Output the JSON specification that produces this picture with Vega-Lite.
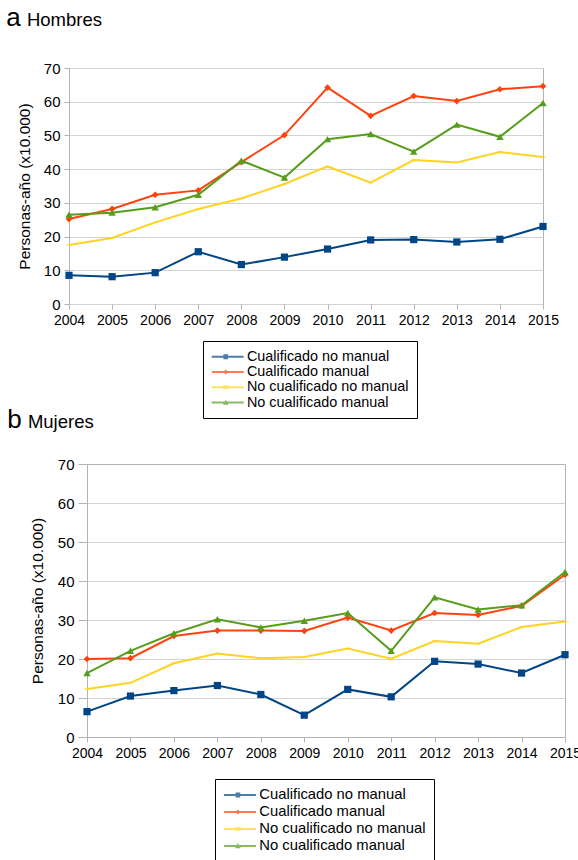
{
  "$schema": "https://vega.github.io/schema/vega-lite/v6.json",
  "background": "white",
  "padding": {"left": 5, "top": 4, "right": 5, "bottom": 0},
  "spacing": -12,
  "config": {
    "font": "Liberation Sans",
    "view": {"stroke": "#b3b3b3", "strokeWidth": 1},
    "axis": {"domain": false, "gridColor": "#d3d3d3", "gridWidth": 1, "tickColor": "#b3b3b3", "tickSize": 5, "labelColor": "black", "labelFont": "Liberation Sans", "titleFont": "Liberation Sans", "titleFontWeight": "normal", "titleColor": "black"},
    "legend": {"orient": "none", "direction": "vertical", "title": null, "padding": 7.5, "strokeColor": "black", "strokeWidth": 1, "fillColor": "white", "labelFont": "Liberation Sans", "labelColor": "black", "labelLimit": 0, "symbolSize": 196, "labelOffset": 21, "symbolStrokeWidth": 0},
    "title": {"anchor": "start", "frame": "bounds", "font": "Liberation Sans", "fontSize": 26, "fontWeight": "normal", "color": "black", "subtitleFont": "Liberation Sans", "subtitleFontSize": 18.5, "subtitleColor": "black", "subtitlePadding": -20}
  },
  "resolve": {"scale": {"color": "independent", "shape": "independent"}, "legend": {"color": "independent", "shape": "independent"}},
  "datasets": {
    "hombres": [
      {"anio": 2004, "grupo": "Cualificado no manual", "valor": 8.5},
      {"anio": 2005, "grupo": "Cualificado no manual", "valor": 8.1},
      {"anio": 2006, "grupo": "Cualificado no manual", "valor": 9.3},
      {"anio": 2007, "grupo": "Cualificado no manual", "valor": 15.5},
      {"anio": 2008, "grupo": "Cualificado no manual", "valor": 11.7},
      {"anio": 2009, "grupo": "Cualificado no manual", "valor": 13.9},
      {"anio": 2010, "grupo": "Cualificado no manual", "valor": 16.3},
      {"anio": 2011, "grupo": "Cualificado no manual", "valor": 19.0},
      {"anio": 2012, "grupo": "Cualificado no manual", "valor": 19.1},
      {"anio": 2013, "grupo": "Cualificado no manual", "valor": 18.4},
      {"anio": 2014, "grupo": "Cualificado no manual", "valor": 19.2},
      {"anio": 2015, "grupo": "Cualificado no manual", "valor": 23.0},
      {"anio": 2004, "grupo": "Cualificado manual", "valor": 25.2},
      {"anio": 2005, "grupo": "Cualificado manual", "valor": 28.2},
      {"anio": 2006, "grupo": "Cualificado manual", "valor": 32.4},
      {"anio": 2007, "grupo": "Cualificado manual", "valor": 33.7},
      {"anio": 2008, "grupo": "Cualificado manual", "valor": 42.1},
      {"anio": 2009, "grupo": "Cualificado manual", "valor": 50.1},
      {"anio": 2010, "grupo": "Cualificado manual", "valor": 64.2},
      {"anio": 2011, "grupo": "Cualificado manual", "valor": 55.8},
      {"anio": 2012, "grupo": "Cualificado manual", "valor": 61.7},
      {"anio": 2013, "grupo": "Cualificado manual", "valor": 60.2},
      {"anio": 2014, "grupo": "Cualificado manual", "valor": 63.7},
      {"anio": 2015, "grupo": "Cualificado manual", "valor": 64.6},
      {"anio": 2004, "grupo": "No cualificado no manual", "valor": 17.5},
      {"anio": 2005, "grupo": "No cualificado no manual", "valor": 19.6},
      {"anio": 2006, "grupo": "No cualificado no manual", "valor": 24.2},
      {"anio": 2007, "grupo": "No cualificado no manual", "valor": 28.2},
      {"anio": 2008, "grupo": "No cualificado no manual", "valor": 31.3},
      {"anio": 2009, "grupo": "No cualificado no manual", "valor": 35.6},
      {"anio": 2010, "grupo": "No cualificado no manual", "valor": 40.8},
      {"anio": 2011, "grupo": "No cualificado no manual", "valor": 36.0},
      {"anio": 2012, "grupo": "No cualificado no manual", "valor": 42.7},
      {"anio": 2013, "grupo": "No cualificado no manual", "valor": 42.0},
      {"anio": 2014, "grupo": "No cualificado no manual", "valor": 45.1},
      {"anio": 2015, "grupo": "No cualificado no manual", "valor": 43.6},
      {"anio": 2004, "grupo": "No cualificado manual", "valor": 26.5},
      {"anio": 2005, "grupo": "No cualificado manual", "valor": 27.1},
      {"anio": 2006, "grupo": "No cualificado manual", "valor": 28.7},
      {"anio": 2007, "grupo": "No cualificado manual", "valor": 32.4},
      {"anio": 2008, "grupo": "No cualificado manual", "valor": 42.5},
      {"anio": 2009, "grupo": "No cualificado manual", "valor": 37.5},
      {"anio": 2010, "grupo": "No cualificado manual", "valor": 48.9},
      {"anio": 2011, "grupo": "No cualificado manual", "valor": 50.4},
      {"anio": 2012, "grupo": "No cualificado manual", "valor": 45.2},
      {"anio": 2013, "grupo": "No cualificado manual", "valor": 53.2},
      {"anio": 2014, "grupo": "No cualificado manual", "valor": 49.6},
      {"anio": 2015, "grupo": "No cualificado manual", "valor": 59.6}
    ],
    "mujeres": [
      {"anio": 2004, "grupo": "Cualificado no manual", "valor": 6.5},
      {"anio": 2005, "grupo": "Cualificado no manual", "valor": 10.5},
      {"anio": 2006, "grupo": "Cualificado no manual", "valor": 11.9},
      {"anio": 2007, "grupo": "Cualificado no manual", "valor": 13.2},
      {"anio": 2008, "grupo": "Cualificado no manual", "valor": 10.9},
      {"anio": 2009, "grupo": "Cualificado no manual", "valor": 5.6},
      {"anio": 2010, "grupo": "Cualificado no manual", "valor": 12.2},
      {"anio": 2011, "grupo": "Cualificado no manual", "valor": 10.3},
      {"anio": 2012, "grupo": "Cualificado no manual", "valor": 19.4},
      {"anio": 2013, "grupo": "Cualificado no manual", "valor": 18.7},
      {"anio": 2014, "grupo": "Cualificado no manual", "valor": 16.4},
      {"anio": 2015, "grupo": "Cualificado no manual", "valor": 21.1},
      {"anio": 2004, "grupo": "Cualificado manual", "valor": 20.0},
      {"anio": 2005, "grupo": "Cualificado manual", "valor": 20.2},
      {"anio": 2006, "grupo": "Cualificado manual", "valor": 25.9},
      {"anio": 2007, "grupo": "Cualificado manual", "valor": 27.3},
      {"anio": 2008, "grupo": "Cualificado manual", "valor": 27.3},
      {"anio": 2009, "grupo": "Cualificado manual", "valor": 27.2},
      {"anio": 2010, "grupo": "Cualificado manual", "valor": 30.6},
      {"anio": 2011, "grupo": "Cualificado manual", "valor": 27.3},
      {"anio": 2012, "grupo": "Cualificado manual", "valor": 31.8},
      {"anio": 2013, "grupo": "Cualificado manual", "valor": 31.3},
      {"anio": 2014, "grupo": "Cualificado manual", "valor": 33.6},
      {"anio": 2015, "grupo": "Cualificado manual", "valor": 41.6},
      {"anio": 2004, "grupo": "No cualificado no manual", "valor": 12.3},
      {"anio": 2005, "grupo": "No cualificado no manual", "valor": 13.9},
      {"anio": 2006, "grupo": "No cualificado no manual", "valor": 18.9},
      {"anio": 2007, "grupo": "No cualificado no manual", "valor": 21.4},
      {"anio": 2008, "grupo": "No cualificado no manual", "valor": 20.2},
      {"anio": 2009, "grupo": "No cualificado no manual", "valor": 20.5},
      {"anio": 2010, "grupo": "No cualificado no manual", "valor": 22.7},
      {"anio": 2011, "grupo": "No cualificado no manual", "valor": 20.1},
      {"anio": 2012, "grupo": "No cualificado no manual", "valor": 24.6},
      {"anio": 2013, "grupo": "No cualificado no manual", "valor": 23.9},
      {"anio": 2014, "grupo": "No cualificado no manual", "valor": 28.2},
      {"anio": 2015, "grupo": "No cualificado no manual", "valor": 29.6},
      {"anio": 2004, "grupo": "No cualificado manual", "valor": 16.4},
      {"anio": 2005, "grupo": "No cualificado manual", "valor": 22.1},
      {"anio": 2006, "grupo": "No cualificado manual", "valor": 26.6},
      {"anio": 2007, "grupo": "No cualificado manual", "valor": 30.2},
      {"anio": 2008, "grupo": "No cualificado manual", "valor": 28.1},
      {"anio": 2009, "grupo": "No cualificado manual", "valor": 29.8},
      {"anio": 2010, "grupo": "No cualificado manual", "valor": 31.8},
      {"anio": 2011, "grupo": "No cualificado manual", "valor": 22.1},
      {"anio": 2012, "grupo": "No cualificado manual", "valor": 35.8},
      {"anio": 2013, "grupo": "No cualificado manual", "valor": 32.7},
      {"anio": 2014, "grupo": "No cualificado manual", "valor": 33.8},
      {"anio": 2015, "grupo": "No cualificado manual", "valor": 42.3}
    ]
  },
  "vconcat": [
    {
      "width": 474,
      "height": 236,
      "title": {"text": "a", "subtitle": "\u200b\u00a0\u00a0\u00a0\u00a0Hombres", "offset": 30, "dx": -11},
      "data": {"name": "hombres"},
      "encoding": {
        "x": {"field": "anio", "type": "ordinal", "scale": {"type": "point", "padding": 0}, "axis": {"title": null, "labelAngle": 0, "labelFontSize": 14, "labelPadding": 4, "grid": false}},
        "y": {"field": "valor", "type": "quantitative", "scale": {"domain": [0, 70], "nice": false}, "axis": {"title": "Personas-año (x10.000)", "titleFontSize": 15.5, "values": [0, 10, 20, 30, 40, 50, 60, 70], "labelFontSize": 15, "labelPadding": 4, "titlePadding": 11}}
      },
      "layer": [
        {
          "mark": {"type": "point", "filled": true, "size": 0},
          "encoding": {
            "color": {"field": "grupo", "type": "nominal", "scale": {"domain": ["Cualificado no manual", "Cualificado manual", "No cualificado no manual", "No cualificado manual"], "range": ["#004586", "#ff420e", "#ffd320", "#579d1c"]}, "legend": {"legendX": 134, "legendY": 273, "labelFontSize": 14.4, "rowPadding": 0.3, "padding": 8.5}},
            "shape": {"field": "grupo", "type": "nominal", "scale": {"domain": ["Cualificado no manual", "Cualificado manual", "No cualificado no manual", "No cualificado manual"], "range": ["M-1,-0.143H3.57V0.143H-1Z M0.67,-0.36H1.33V0.36H0.67Z", "M-1,-0.143H3.57V0.143H-1Z M1,-0.36L1.36,0L1,0.36L0.64,0Z", "M-1,-0.143H3.57V0.143H-1Z M0.6,-0.25H1.4V0.25H0.6Z", "M-1,-0.143H3.57V0.143H-1Z M1,-0.42L1.42,0.32H0.58Z"]}, "legend": {"legendX": 134, "legendY": 273, "labelFontSize": 14.4, "rowPadding": 0.3, "padding": 8.5}}
          }
        },
        {
          "mark": {"type": "line", "strokeWidth": 2},
          "encoding": {
            "color": {"field": "grupo", "type": "nominal", "scale": {"domain": ["Cualificado no manual", "Cualificado manual", "No cualificado no manual", "No cualificado manual"], "range": ["#004586", "#ff420e", "#ffd320", "#579d1c"]}, "legend": {"legendX": 134, "legendY": 273, "labelFontSize": 14.4, "rowPadding": 0.3, "padding": 8.5}}
          }
        },
        {"transform": [{"filter": "datum.grupo === 'Cualificado no manual'"}], "mark": {"type": "point", "shape": "square", "filled": true, "opacity": 1, "size": 52, "color": "#004586"}, "encoding": {}},
        {"transform": [{"filter": "datum.grupo === 'Cualificado manual'"}], "mark": {"type": "point", "shape": "diamond", "filled": true, "opacity": 1, "size": 45, "color": "#ff420e"}, "encoding": {}},
        {"transform": [{"filter": "datum.grupo === 'No cualificado no manual'"}], "mark": {"type": "point", "shape": "M-0.7,-0.2H0.7V0.2H-0.7Z", "filled": true, "opacity": 1, "size": 40, "color": "#ffd320"}, "encoding": {}},
        {"transform": [{"filter": "datum.grupo === 'No cualificado manual'"}], "mark": {"type": "point", "shape": "triangle-up", "filled": true, "opacity": 1, "size": 55, "color": "#579d1c"}, "encoding": {}}
      ]
    },
    {
      "width": 496,
      "height": 273,
      "view": {"stroke": null},
      "title": {"text": "b", "subtitle": "\u200b\u00a0\u00a0\u00a0\u00a0Mujeres", "offset": 24, "dx": -23},
      "data": {"name": "mujeres"},
      "encoding": {
        "x": {"field": "anio", "type": "ordinal", "scale": {"type": "point", "padding": 0, "range": [18, 496]}, "axis": {"title": null, "labelAngle": 0, "labelFontSize": 14, "labelPadding": 4, "grid": true, "gridColor": "#b3b3b3", "gridOpacity": {"condition": {"test": "datum.value == 2004 || datum.value == 2015", "value": 1}, "value": 0}}},
        "y": {"field": "valor", "type": "quantitative", "scale": {"domain": [0, 70], "nice": false}, "axis": {"title": "Personas-año (x10.000)", "titleFontSize": 15.5, "values": [0, 10, 20, 30, 40, 50, 60, 70], "labelFontSize": 15, "labelPadding": 4, "tickSize": 9, "offset": -18, "titlePadding": 12, "gridColor": {"condition": {"test": "datum.value == 0 || datum.value == 70", "value": "#b3b3b3"}, "value": "#d3d3d3"}}}
      },
      "layer": [
        {
          "mark": {"type": "point", "filled": true, "size": 0},
          "encoding": {
            "color": {"field": "grupo", "type": "nominal", "scale": {"domain": ["Cualificado no manual", "Cualificado manual", "No cualificado no manual", "No cualificado manual"], "range": ["#004586", "#ff420e", "#ffd320", "#579d1c"]}, "legend": {"legendX": 146, "legendY": 315, "labelFontSize": 14.8, "rowPadding": 1.0, "padding": 8.5}},
            "shape": {"field": "grupo", "type": "nominal", "scale": {"domain": ["Cualificado no manual", "Cualificado manual", "No cualificado no manual", "No cualificado manual"], "range": ["M-1,-0.143H3.57V0.143H-1Z M0.67,-0.36H1.33V0.36H0.67Z", "M-1,-0.143H3.57V0.143H-1Z M1,-0.36L1.36,0L1,0.36L0.64,0Z", "M-1,-0.143H3.57V0.143H-1Z M0.6,-0.25H1.4V0.25H0.6Z", "M-1,-0.143H3.57V0.143H-1Z M1,-0.42L1.42,0.32H0.58Z"]}, "legend": {"legendX": 146, "legendY": 315, "labelFontSize": 14.8, "rowPadding": 1.0, "padding": 8.5}}
          }
        },
        {
          "mark": {"type": "line", "strokeWidth": 2},
          "encoding": {
            "color": {"field": "grupo", "type": "nominal", "scale": {"domain": ["Cualificado no manual", "Cualificado manual", "No cualificado no manual", "No cualificado manual"], "range": ["#004586", "#ff420e", "#ffd320", "#579d1c"]}, "legend": {"legendX": 146, "legendY": 315, "labelFontSize": 14.8, "rowPadding": 1.0, "padding": 8.5}}
          }
        },
        {"transform": [{"filter": "datum.grupo === 'Cualificado no manual'"}], "mark": {"type": "point", "shape": "square", "filled": true, "opacity": 1, "size": 52, "color": "#004586"}, "encoding": {}},
        {"transform": [{"filter": "datum.grupo === 'Cualificado manual'"}], "mark": {"type": "point", "shape": "diamond", "filled": true, "opacity": 1, "size": 45, "color": "#ff420e"}, "encoding": {}},
        {"transform": [{"filter": "datum.grupo === 'No cualificado no manual'"}], "mark": {"type": "point", "shape": "M-0.7,-0.2H0.7V0.2H-0.7Z", "filled": true, "opacity": 1, "size": 40, "color": "#ffd320"}, "encoding": {}},
        {"transform": [{"filter": "datum.grupo === 'No cualificado manual'"}], "mark": {"type": "point", "shape": "triangle-up", "filled": true, "opacity": 1, "size": 55, "color": "#579d1c"}, "encoding": {}}
      ]
    }
  ]
}
